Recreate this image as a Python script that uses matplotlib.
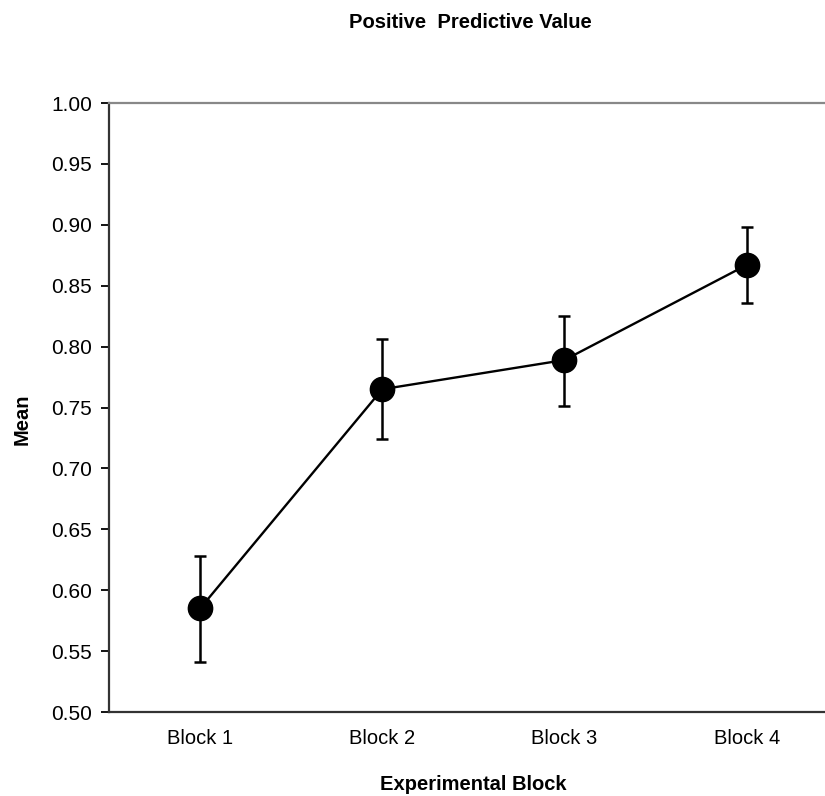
import matplotlib
matplotlib.use("Agg")
import matplotlib.pyplot as plt

plt.rcParams['font.family'] = ['Liberation Sans', 'DejaVu Sans']

categories = ["Block 1", "Block 2", "Block 3", "Block 4"]
means = [0.585, 0.765, 0.789, 0.867]
upper = [0.628, 0.806, 0.825, 0.898]
lower = [0.541, 0.724, 0.751, 0.836]

err_lo = [m - l for m, l in zip(means, lower)]
err_hi = [u - m for m, u in zip(means, upper)]

fig = plt.figure(figsize=(8.25, 7.96), dpi=100)
ax = fig.add_axes([0.1321, 0.1055, 0.8679, 0.7651])

x = list(range(len(categories)))
ax.errorbar(x, means, yerr=[err_lo, err_hi], fmt='none', ecolor='black',
            elinewidth=1.8, capsize=4, capthick=1.8, zorder=2)
ax.plot(x, means, color='black', lw=1.7, marker='o', markersize=17.5, zorder=3)

ax.set_xlim(-0.5, 3.43)
ax.set_ylim(0.5, 1.0)
ax.set_yticks([0.5 + 0.05 * i for i in range(11)])
ax.set_yticklabels([f"{0.5 + 0.05 * i:.2f}" for i in range(11)], fontsize=15)
ax.set_xticks(x)
ax.set_xticklabels(categories, fontsize=14.5)
ax.tick_params(axis='x', length=0, pad=12)
ax.tick_params(axis='y', length=6, width=1.3, direction='out', pad=6)

ax.spines['right'].set_visible(False)
ax.spines['top'].set_color('#888888')
ax.spines['top'].set_linewidth(1.6)
ax.spines['left'].set_color('#333333')
ax.spines['left'].set_linewidth(1.6)
ax.spines['bottom'].set_color('#333333')
ax.spines['bottom'].set_linewidth(1.6)

ax.set_ylabel("Mean", fontsize=14.5, fontweight='bold')
ax.yaxis.label.set_va('center')
ax.yaxis.set_label_coords(-(109 - 22) / 716, (712 - 419) / 609)
ax.set_xlabel("Experimental Block", fontsize=14.5, fontweight='bold')
ax.xaxis.label.set_va('center')
ax.xaxis.set_label_coords((473 - 109) / 716, -(784 - 712) / 609)
fig.text(470 / 825, 1 - 22 / 796, "Positive  Predictive Value", fontsize=14.5,
         fontweight='bold', ha='center', va='center')

fig.savefig("out.png", dpi=100)
